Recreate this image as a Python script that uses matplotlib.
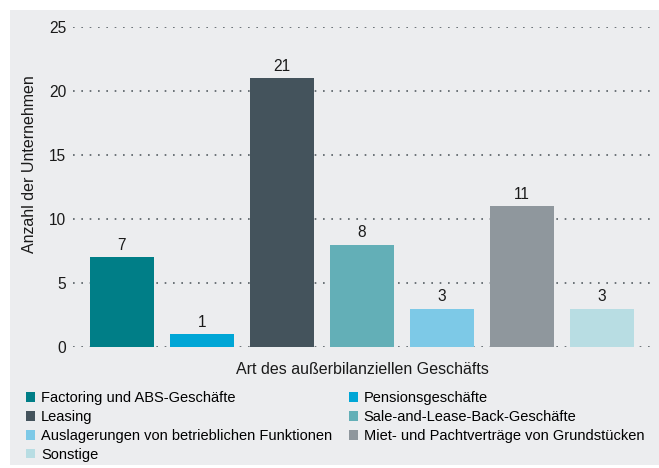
import matplotlib.pyplot as plt
from matplotlib.patches import Rectangle, Patch

plt.rcParams['font.family'] = ['Liberation Sans', 'DejaVu Sans']

categories = [
    "Factoring und ABS-Geschäfte",
    "Pensionsgeschäfte",
    "Leasing",
    "Sale-and-Lease-Back-Geschäfte",
    "Auslagerungen von betrieblichen Funktionen",
    "Miet- und Pachtverträge von Grundstücken",
    "Sonstige",
]
values = [7, 1, 21, 8, 3, 11, 3]
colors = ["#007E87", "#00A6D6", "#44535C", "#63AFB7", "#7DC9E7", "#8F979D", "#B8DDE3"]
yticks = [0, 5, 10, 15, 20, 25]

W, H = 659, 468
TXT = "#1a1a1a"
fig = plt.figure(figsize=(W / 100, H / 100), dpi=100, facecolor="white")

# light grey panel behind the whole chart
fig.patches.append(Rectangle((10 / W, 3 / H), 1 - 10 / W, 1 - 13 / H,
                             transform=fig.transFigure, facecolor="#ECEDEF",
                             edgecolor="none", zorder=-10))

ax = fig.add_axes([73 / W, 1 - 347 / H, (651 - 73) / W, (347 - 27) / H])
ax.set_facecolor("none")

x = list(range(len(values)))
ax.bar(x, values, width=0.8, color=colors, edgecolor="none", zorder=3)
for xi, v in zip(x, values):
    ax.annotate(str(v), (xi, v), xytext=(0, 3), textcoords="offset points",
                ha="center", va="bottom", fontsize=11.2, color=TXT)

ax.set_xlim(-0.61, 6.61)
ax.set_ylim(0, 25)
ax.set_yticks(yticks)
ax.set_xticks([])
ax.tick_params(axis="y", length=0, pad=5, labelsize=11.2, labelcolor=TXT)
ax.yaxis.grid(True, linestyle=(0, (1, 4)), linewidth=1.2, color="#555d63", zorder=0)
ax.set_axisbelow(True)
for s in ax.spines.values():
    s.set_visible(False)

ax.set_ylabel("Anzahl der Unternehmen", fontsize=11.5, color=TXT)
ax.yaxis.set_label_coords(-0.062, 0.57)
ax.set_xlabel("Art des außerbilanziellen Geschäfts", fontsize=11.5, color=TXT, labelpad=11)

# legend filled row by row in two columns
order = [0, 2, 4, 6, 1, 3, 5]
handles = [Patch(facecolor=colors[i], edgecolor="none") for i in order]
labels = [categories[i] for i in order]
fig.legend(handles, labels, ncol=2, loc="upper left",
           bbox_to_anchor=(26 / W, 1 - 391 / H), frameon=False,
           fontsize=10.5, handlelength=0.62, handleheight=0.62, handletextpad=0.4,
           columnspacing=1.15, labelspacing=0.34, borderaxespad=0, borderpad=0)

fig.savefig("out.png", dpi=100, facecolor="white")
